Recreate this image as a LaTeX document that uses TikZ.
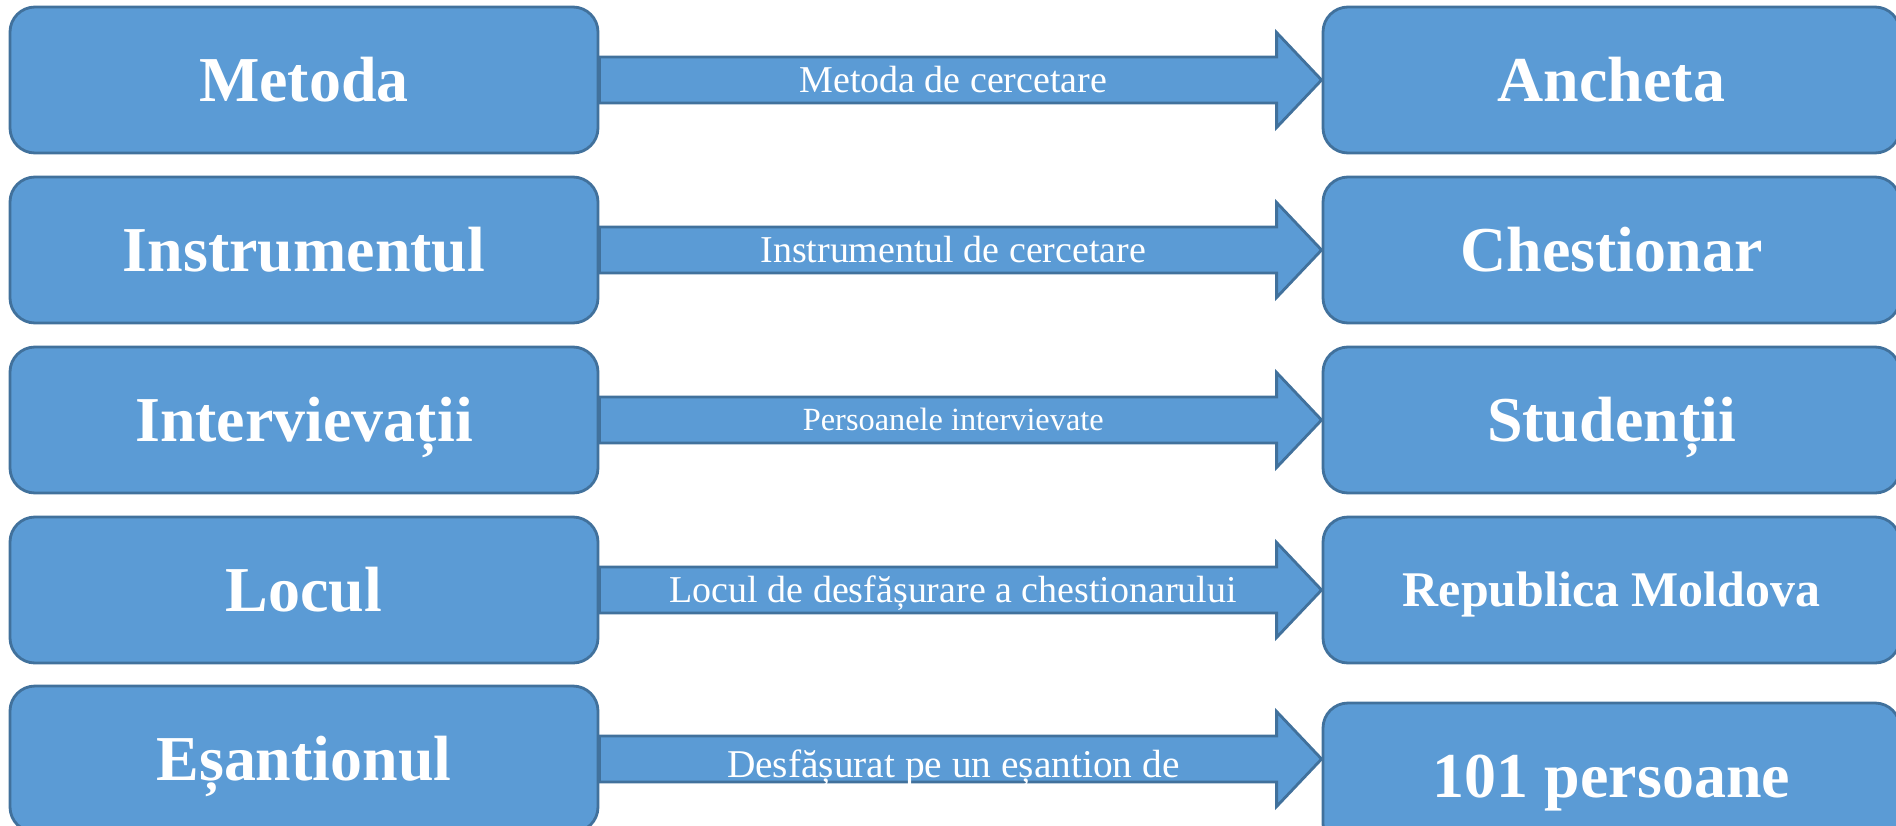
\documentclass[tikz,border=0pt]{standalone}
\usepackage{fontspec}
\setmainfont{Liberation Serif}
\definecolor{boxblue}{RGB}{91, 155, 213}
\definecolor{edgeblue}{RGB}{65, 113, 156}
\usetikzlibrary{calc, positioning}

\begin{document}
\begin{tikzpicture}[
  box/.style={draw=edgeblue, fill=boxblue, rounded corners=0.25cm, line width=0.8pt, text=white, minimum height=1.46cm, align=center, inner sep=0pt, font=\fontsize{18.2}{22}\selectfont\bfseries, text height=12pt, text depth=0pt},
  fatarrow/.style={draw=edgeblue, fill=boxblue, line width=0.8pt},
  arrowtext/.style={text=white, inner sep=0pt, font=\fontsize{10.8}{13}\selectfont, text height=7.1pt, text depth=0pt}
]
  \useasboundingbox (0,0) rectangle (18.96,-8.25);

  % Left column
  \node[box, minimum width=5.88cm] (metoda) at (3.04,-0.80) {Metoda};
  \node[box, minimum width=5.88cm] (instr) at (3.04,-2.50) {Instrumentul};
  \node[box, minimum width=5.88cm] (interv) at (3.04,-4.20) {Intervievații};
  \node[box, minimum width=5.88cm] (locul) at (3.04,-5.90) {Locul};
  \node[box, minimum width=5.88cm] (esant) at (3.04,-7.59) {Eșantionul};

  % Right column
  \node[box, minimum width=5.77cm] (ancheta) at (16.115,-0.80) {Ancheta};
  \node[box, minimum width=5.77cm] (chest) at (16.115,-2.50) {Chestionar};
  \node[box, minimum width=5.77cm] (stud) at (16.115,-4.20) {Studenții};
  \node[box, minimum width=5.77cm, font=\fontsize{14.2}{17}\selectfont\bfseries, text height=9.4pt] (rep) at (16.115,-5.90) {Republica Moldova};
  \node[box, minimum width=5.77cm] (pers) at (16.115,-7.76) {101 persoane};

  % Arrow tips
  \coordinate (tip1) at (metoda.east -| ancheta.west);
  \coordinate (tip2) at (instr.east -| chest.west);
  \coordinate (tip3) at (interv.east -| stud.west);
  \coordinate (tip4) at (locul.east -| rep.west);
  \coordinate (tip5) at (esant.east -| pers.west);

  % Block arrows
  \draw[fatarrow] ($(metoda.east)+(0,0.23)$) -| ($(tip1)+(-0.45,0.475)$) -- (tip1) -- ++(-0.45,-0.475) -- ++(0,0.245) -- ($(metoda.east)+(0,-0.23)$) -- cycle;
  \draw[fatarrow] ($(instr.east)+(0,0.23)$) -| ($(tip2)+(-0.45,0.475)$) -- (tip2) -- ++(-0.45,-0.475) -- ++(0,0.245) -- ($(instr.east)+(0,-0.23)$) -- cycle;
  \draw[fatarrow] ($(interv.east)+(0,0.23)$) -| ($(tip3)+(-0.45,0.475)$) -- (tip3) -- ++(-0.45,-0.475) -- ++(0,0.245) -- ($(interv.east)+(0,-0.23)$) -- cycle;
  \draw[fatarrow] ($(locul.east)+(0,0.23)$) -| ($(tip4)+(-0.45,0.475)$) -- (tip4) -- ++(-0.45,-0.475) -- ++(0,0.245) -- ($(locul.east)+(0,-0.23)$) -- cycle;
  \draw[fatarrow] ($(esant.east)+(0,0.23)$) -| ($(tip5)+(-0.45,0.475)$) -- (tip5) -- ++(-0.45,-0.475) -- ++(0,0.245) -- ($(esant.east)+(0,-0.23)$) -- cycle;

  % Arrow labels
  \node[arrowtext] (lbl1) at ($(metoda.east)!0.49!(tip1)$) {Metoda de cercetare};
  \node[arrowtext] (lbl2) at ($(instr.east)!0.49!(tip2)$) {Instrumentul de cercetare};
  \node[arrowtext, font=\fontsize{9.2}{11}\selectfont, text height=6.1pt] (lbl3) at ($(interv.east)!0.49!(tip3)$) {Persoanele intervievate};
  \node[arrowtext] (lbl4) at ($(locul.east)!0.49!(tip4)$) {Locul de desfășurare a chestionarului};
  \node[arrowtext, font=\fontsize{11.2}{13}\selectfont, text height=7.4pt, yshift=-0.05cm] (lbl5) at ($(esant.east)!0.49!(tip5)$) {Desfășurat pe un eșantion de};
\end{tikzpicture}
\end{document}
